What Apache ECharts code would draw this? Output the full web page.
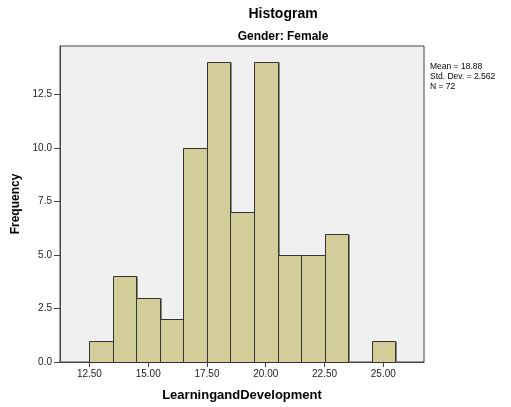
<!DOCTYPE html>
<html><head><meta charset="utf-8">
<script src="https://cdn.jsdelivr.net/npm/echarts@6/dist/echarts.min.js"></script>
<style>html,body{margin:0;padding:0;background:#fff}#c{width:511px;height:407px}</style>
</head><body><div id="c"></div>
<script>
const binStarts = [12.5, 13.5, 14.5, 15.5, 16.5, 17.5, 18.5, 19.5, 20.5, 21.5, 22.5, 23.5, 24.5];
const counts = [1, 4, 3, 2, 10, 14, 7, 14, 5, 5, 6, 0, 1];
const binWidth = 1;
const xTicks = [12.5, 15, 17.5, 20, 22.5, 25];
const statLines = ["Mean = 18.88", "Std. Dev. = 2.562", "N = 72"];
const FONT = "Liberation Sans, Arial, sans-serif";

const data = binStarts.map((s, i) => [s, s + binWidth, counts[i]]).filter(d => d[2] > 0);

const chart = echarts.init(document.getElementById('c'), null, {renderer: 'canvas'});
chart.setOption({
  animation: false,
  backgroundColor: '#ffffff',
  grid: {left: 60, top: 46, right: 87, bottom: 41, show: true,
         backgroundColor: '#F0F0F0', borderColor: '#444', borderWidth: 1},
  xAxis: {
    type: 'value', min: 11.25, max: 26.73,
    name: 'LearningandDevelopment', nameLocation: 'middle', nameGap: 27,
    nameTextStyle: {fontFamily: FONT, fontSize: 13, fontWeight: 'bold', color: '#000'},
    axisLine: {show: true, lineStyle: {color: '#444'}},
    axisTick: {show: true, length: 5, lineStyle: {color: '#444'}, customValues: xTicks},
    axisLabel: {customValues: xTicks, fontFamily: FONT, fontSize: 10, color: '#222', margin: 7,
                formatter: v => v.toFixed(2)},
    splitLine: {show: false}
  },
  yAxis: {
    type: 'value', min: 0, max: 14.76, interval: 2.5,
    name: 'Frequency', nameLocation: 'middle', nameGap: 34,
    nameTextStyle: {fontFamily: FONT, fontSize: 12, fontWeight: 'bold', color: '#000'},
    axisLine: {show: true, lineStyle: {color: '#444'}},
    axisTick: {show: true, length: 6, lineStyle: {color: '#444'}},
    axisLabel: {fontFamily: FONT, fontSize: 10, color: '#222', margin: 8, showMaxLabel: false,
                formatter: v => v.toFixed(1)},
    splitLine: {show: false}
  },
  graphic: [
    {type: 'text', x: 283, y: 14,
     style: {text: 'Histogram', font: 'bold 14px ' + FONT, fill: '#000', textAlign: 'center', textVerticalAlign: 'middle'}},
    {type: 'text', x: 283, y: 37,
     style: {text: 'Gender: Female', font: 'bold 12px ' + FONT, fill: '#000', textAlign: 'center', textVerticalAlign: 'middle'}},
    {type: 'text', left: 430, top: 62,
     style: {text: statLines.join('\n'), font: '8.5px ' + FONT, fill: '#000', lineHeight: 10}}
  ],
  series: [{
    type: 'custom',
    data: data,
    encode: {x: [0, 1], y: 2},
    renderItem: function (params, api) {
      const p0 = api.coord([api.value(0), 0]);
      const p1 = api.coord([api.value(1), api.value(2)]);
      const x = Math.round(p0[0]) + 0.5, w = Math.round(p1[0]) - Math.round(p0[0]);
      const y = Math.round(p1[1]) + 0.5, h = Math.round(p0[1]) - Math.round(p1[1]);
      return {
        type: 'group',
        children: [
          {type: 'rect', shape: {x: x + 1.5, y: y, width: w, height: h},
           style: {fill: '#8a8a80'}},
          {type: 'rect', shape: {x: x, y: y, width: w, height: h},
           style: {fill: '#D3CE99', stroke: '#333', lineWidth: 1}}
        ]
      };
    }
  }]
});
</script></body></html>
